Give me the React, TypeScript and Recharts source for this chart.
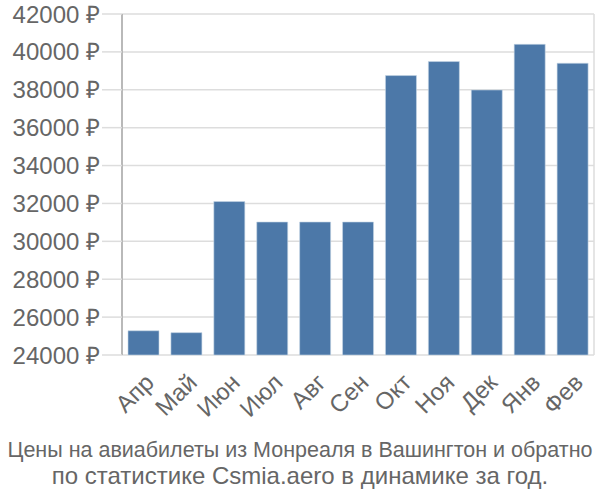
import { Bar, BarChart, CartesianGrid, XAxis, YAxis } from 'recharts';

const MONTHS = ['Апр', 'Май', 'Июн', 'Июл', 'Авг', 'Сен', 'Окт', 'Ноя', 'Дек', 'Янв', 'Фев'];
const PRICES = [25280, 25180, 32100, 31020, 31020, 31020, 38750, 39490, 37990, 40400, 39400];
const Y_TICKS = [24000, 26000, 28000, 30000, 32000, 34000, 36000, 38000, 40000, 42000];
const BAND_EDGES = [0, 1, 2, 3, 4, 5, 6, 7, 8, 9, 10, 11];
const TITLE = ['Цены на авиабилеты из Монреаля в Вашингтон и обратно', 'по статистике Csmia.aero в динамике за год.'];

const data = MONTHS.map((month, i) => ({ month, price: PRICES[i], idx: i + 0.5 }));

const FONT = '"Liberation Sans", Arial, sans-serif';
const TEXT = '#666666';
const GRID = '#dddddd';

export default function App() {
  return (
    <div style={{ position: 'absolute', left: 0, top: 0, width: 600, height: 500, fontFamily: FONT, background: '#fff' }}>
      <BarChart width={600} height={500} data={data} margin={{ top: 14, right: 6, left: 0, bottom: 0 }} barCategoryGap="14%">
        <CartesianGrid stroke={GRID} strokeWidth={1.5} xAxisId="edges" />
        <XAxis
          xAxisId="edges"
          type="number"
          dataKey="idx"
          domain={[0, 11]}
          ticks={BAND_EDGES}
          height={0}
          axisLine={false}
          tick={false}
          tickSize={20}
          tickLine={{ stroke: GRID, strokeWidth: 1.5 }}
        />
        <XAxis
          dataKey="month"
          height={145}
          axisLine={false}
          tickLine={false}
          interval={0}
          tickSize={0}
          tickMargin={17}
          angle={-45}
          textAnchor="end"
          tick={{ fill: TEXT, fontSize: 24, fontFamily: FONT }}
        />
        <YAxis
          width={122}
          domain={[24000, 42000]}
          ticks={Y_TICKS}
          interval={0}
          tickFormatter={(v: number) => `${v} ₽`}
          axisLine={{ stroke: '#aaaaaa', strokeWidth: 1.5 }}
          tickSize={20}
          tickMargin={2}
          tickLine={{ stroke: GRID, strokeWidth: 1.5 }}
          tick={{ fill: TEXT, fontSize: 24, fontFamily: FONT }}
        />
        <Bar dataKey="price" fill="#4c78a8" stroke="#c8d6e6" strokeWidth={0.6} isAnimationActive={false} />
      </BarChart>
      <svg width={600} height={70} style={{ position: 'absolute', left: 0, top: 430 }}>
        <text x={300} y={27} textAnchor="middle" fill={TEXT} fontSize={21.5} fontFamily={FONT}>
          {TITLE[0]}
        </text>
        <text x={300} y={54} textAnchor="middle" fill={TEXT} fontSize={24} fontFamily={FONT}>
          {TITLE[1]}
        </text>
      </svg>
    </div>
  );
}
